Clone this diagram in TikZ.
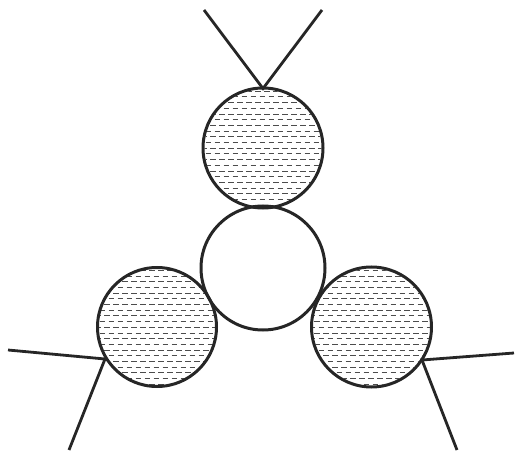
\documentclass[tikz,border=0pt]{standalone}
\begin{document}
\begin{tikzpicture}[x=1pt,y=-1pt,
  ring/.style={line width=3pt,draw=black!85},
  leg/.style={line width=2.8pt,draw=black!85},
  hatchline/.style={line width=1pt,draw=black!70,dash pattern=on 5.5pt off 3.5pt}]
\useasboundingbox (0,0) rectangle (515,452);
\coordinate (T) at (263,148);
\coordinate (C) at (263,268);
\coordinate (L) at (157,327);
\coordinate (R) at (371.5,327);
% hatching
\foreach \cx/\cy in {263/148,157/327,371.5/327}{
  \begin{scope}
    \clip (\cx,\cy) circle (58.5);
    \foreach \k in {-11,...,11}{
      \pgfmathsetmacro{\yy}{\cy+\k*5.7+0.3}
      \pgfmathsetmacro{\ph}{mod(abs(\k),2)*4.5}
      \draw[hatchline,dash phase=\ph pt] (\cx-62,\yy) -- (\cx+62,\yy);
    }
  \end{scope}
}
\node[circle,ring,minimum size=120pt,inner sep=0pt] (top) at (T) {};
\node[circle,ring,minimum size=124pt,inner sep=0pt] (mid) at (C) {};
\node[circle,ring,minimum size=119pt,inner sep=0pt] (left) at (L) {};
\node[circle,ring,minimum size=120pt,inner sep=0pt] (right) at (R) {};
\coordinate (tj) at (263,88.5);
\coordinate (lj) at (105,359);
\coordinate (rj) at (422,360);
\coordinate (t1) at (204,10);
\coordinate (t2) at (322,10);
\coordinate (l1) at (8,350);
\coordinate (l2) at (69,450);
\coordinate (r1) at (514,353);
\coordinate (r2) at (457,450);
\draw[leg] (t1) -- (tj) -- (t2);
\draw[leg] (l1) -- (lj) -- (l2);
\draw[leg] (r1) -- (rj) -- (r2);
\end{tikzpicture}
\end{document}
